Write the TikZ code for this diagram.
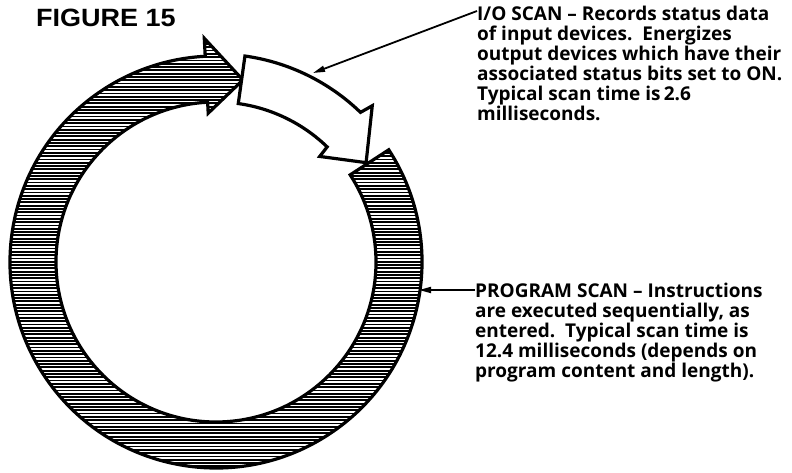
\documentclass[tikz,border=0pt]{standalone}
\usepackage{fontspec}
\setmainfont{Open Sans}
\newfontfamily\figfont{Liberation Sans}
\usetikzlibrary{arrows.meta,calc}
\begin{document}
\begin{tikzpicture}[x=1pt,y=1pt,
  outline/.style={line width=3.2pt, line join=miter, miter limit=20},
  hatchline/.style={line width=1.8pt},
  txt/.style={inner sep=0pt, align=left, font=\fontsize{19}{20}\selectfont\bfseries},
  callout/.style={line width=1.8pt, -{Triangle[length=12pt,width=6pt]}},
]
\useasboundingbox[fill=white] (0,0) rectangle (792,473);
\coordinate (C) at (216,211);

\def\ringpath{($(C)+(33:206)$) arc[start angle=33, end angle=-267, radius=206]
  -- ($(C)+(93:224)$) -- ($(C)+(81.6:184)$) -- ($(C)+(93:149)$)
  -- ($(C)+(93:160)$) arc[start angle=-267, end angle=33, radius=160] -- cycle}

% hatched ring arrow (program scan)
\begin{scope}
  \clip \ringpath;
  \foreach \k in {0,...,145} \draw[hatchline] (0,3.3*\k) -- (460,3.3*\k);
\end{scope}
\draw[outline] \ringpath;

% white arrow (I/O scan)
\draw[outline, fill=white] ($(C)+(82:208)$) arc[start angle=82, end angle=46, radius=208]
  -- ($(C)+(45:221)$) -- ($(C)+(33.5:180)$) -- ($(C)+(45.5:148)$)
  -- ($(C)+(46:160)$) arc[start angle=46, end angle=82, radius=160] -- cycle;

\node[inner sep=0pt, anchor=north west] (fig) at (36,464)
  {\figfont\bfseries\fontsize{25}{25}\selectfont\scalebox{1.08}[1]{FIGURE 15}};

\node[txt, anchor=north west] (io) at (477,467)
  {I/O SCAN -- Records status data\\
   of input devices.\ \ Energizes\\
   output devices which have their\\
   associated status bits set to ON.\\
   Typical scan time is\,2.6\\
   milliseconds.};

\node[txt, anchor=north west] (prog) at (475,190)
  {PROGRAM SCAN -- Instructions\\
   are executed sequentially, as\\
   entered.\ \ Typical scan time is\\
   12.4 milliseconds (depends on\\
   program content and length).};

\coordinate (ioTip) at (313,400);
\coordinate (progTip) at (419,183);
\draw[callout] ($(io.north west)+(0,-5)$) -- (ioTip);
\draw[callout] ($(prog.north west)+(0,-7)$) -- (progTip);
\end{tikzpicture}
\end{document}
